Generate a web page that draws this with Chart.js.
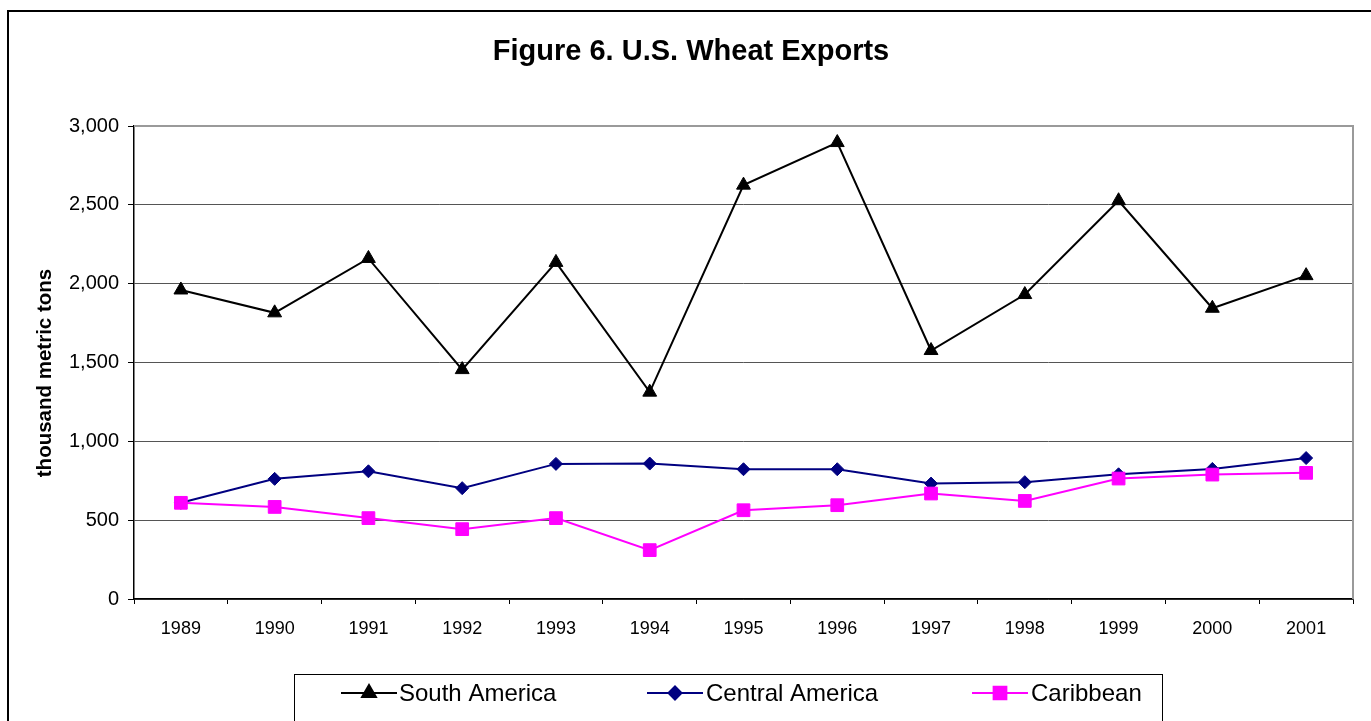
<!DOCTYPE html>
<html>
<head>
<meta charset="utf-8">
<script src="https://cdn.jsdelivr.net/npm/chart.js@4/dist/chart.umd.min.js"></script>
<style>
  html, body { margin: 0; padding: 0; background: #fff; overflow: hidden; }
  canvas { display: block; }
</style>
</head>
<body>
<canvas id="wheatChart" width="1371" height="721"></canvas>
<script>
const years = ["1989", "1990", "1991", "1992", "1993", "1994", "1995", "1996", "1997", "1998", "1999", "2000", "2001"];
const southAmerica = [1960, 1815, 2160, 1455, 2135, 1312, 2625, 2895, 1576, 1931, 2526, 1844, 2051];
const centralAmerica = [610, 762, 810, 703, 857, 859, 823, 823, 732, 741, 791, 825, 894];
const caribbean = [610, 584, 513, 443, 513, 310, 563, 595, 669, 622, 764, 789, 800];
const yTicks = [0, 500, 1000, 1500, 2000, 2500, 3000];

const FONT = "'Liberation Sans', Arial, sans-serif";

// legend entries: line+marker then label, like the excel legend
const legendItems = [
    { label: "South America", color: "#000000", style: "triangle", radius: 8, lineX: 341, textX: 399 },
    { label: "Central America", color: "#000080", style: "rectRot", radius: 6.5, lineX: 647, textX: 706 },
    { label: "Caribbean", color: "#FF00FF", style: "rect", radius: 9, lineX: 972, textX: 1031 }
];

const decorPlugin = {
    id: "decor",
    beforeDatasetsDraw(chart) {
        const { ctx, chartArea } = chart;
        ctx.save();
        // plot area border (top / right, gray like excel)
        ctx.strokeStyle = "#9a9a9a";
        ctx.lineWidth = 2;
        ctx.beginPath();
        ctx.moveTo(chartArea.left, chartArea.top);
        ctx.lineTo(chartArea.right, chartArea.top);
        ctx.lineTo(chartArea.right, chartArea.bottom);
        ctx.stroke();
        ctx.restore();
    },
    afterDraw(chart) {
        const ctx = chart.ctx;
        ctx.save();
        // outer frame
        ctx.strokeStyle = "#000";
        ctx.lineWidth = 2;
        ctx.strokeRect(8, 11, 1420, 800);

        // title
        ctx.fillStyle = "#000";
        ctx.font = "bold 29px " + FONT;
        ctx.textAlign = "center";
        ctx.textBaseline = "middle";
        ctx.fillText("Figure 6. U.S. Wheat Exports", 691, 52);

        // y axis title
        ctx.save();
        ctx.translate(45, 373);
        ctx.rotate(-Math.PI / 2);
        ctx.font = "bold 20.5px " + FONT;
        ctx.textAlign = "center";
        ctx.textBaseline = "middle";
        ctx.fillText("thousand metric tons", 0, 0);
        ctx.restore();

        // legend box
        ctx.lineWidth = 1;
        ctx.strokeRect(294.5, 674.5, 868, 80);
        const ly = 693;
        legendItems.forEach(item => {
            ctx.strokeStyle = item.color;
            ctx.lineWidth = 2;
            ctx.beginPath();
            ctx.moveTo(item.lineX, ly);
            ctx.lineTo(item.lineX + 56, ly);
            ctx.stroke();
            ctx.fillStyle = item.color;
            Chart.helpers.drawPoint(ctx, {
                pointStyle: item.style,
                radius: item.radius,
                rotation: 0,
                borderWidth: 1
            }, item.lineX + 28, ly);
            ctx.fillStyle = "#000";
            ctx.font = "24px " + FONT;
            ctx.textAlign = "left";
            ctx.textBaseline = "middle";
            ctx.fillText(item.label, item.textX, ly + 1);
        });
        ctx.restore();
    }
};

function makeDataset(label, data, color, style, radius, order) {
    return {
        label: label,
        data: data,
        borderColor: color,
        backgroundColor: color,
        pointBackgroundColor: color,
        pointBorderColor: color,
        pointStyle: style,
        pointRadius: radius,
        pointBorderWidth: 1,
        borderWidth: 2,
        tension: 0,
        fill: false,
        order: order
    };
}

const ctx = document.getElementById("wheatChart").getContext("2d");
new Chart(ctx, {
    type: "line",
    data: {
        labels: years,
        datasets: [
            makeDataset("South America", southAmerica, "#000000", "triangle", 8, 2),
            makeDataset("Central America", centralAmerica, "#000080", "rectRot", 6.5, 1),
            makeDataset("Caribbean", caribbean, "#FF00FF", "rect", 9, 0)
        ]
    },
    options: {
        responsive: false,
        animation: false,
        devicePixelRatio: 1,
        layout: { padding: { left: 0, top: 126, right: 18, bottom: 0 } },
        plugins: {
            legend: { display: false },
            tooltip: { enabled: false },
            title: { display: false }
        },
        scales: {
            x: {
                offset: true,
                grid: {
                    display: true,
                    offset: true,
                    drawOnChartArea: false,
                    drawTicks: true,
                    tickLength: 5,
                    tickColor: "#000"
                },
                border: { display: true, color: "#000", width: 1.5 },
                ticks: {
                    color: "#000",
                    font: { family: FONT, size: 18 },
                    padding: 14,
                    maxRotation: 0,
                    autoSkip: false
                },
                afterFit(scale) { scale.height = 122; }
            },
            y: {
                min: 0,
                max: 3000,
                afterBuildTicks(scale) { scale.ticks = yTicks.map(v => ({ value: v })); },
                grid: {
                    color: "#555",
                    lineWidth: 1,
                    drawTicks: true,
                    tickLength: 6,
                    tickColor: "#000"
                },
                border: { display: true, color: "#000", width: 1.5 },
                ticks: {
                    color: "#000",
                    font: { family: FONT, size: 20 },
                    padding: 9,
                    callback: v => v.toLocaleString("en-US")
                },
                afterFit(scale) { scale.width = 134; }
            }
        }
    },
    plugins: [decorPlugin]
});
</script>
</body>
</html>
